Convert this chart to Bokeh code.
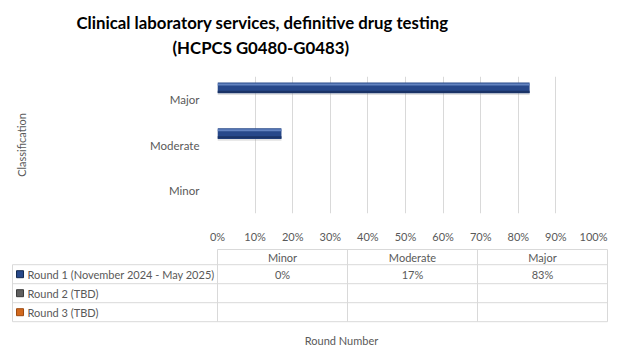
from bokeh.plotting import figure
from bokeh.models import (Range1d, FactorRange, ColumnDataSource, Title,
                          NumeralTickFormatter, FixedTicker)
from bokeh.transform import dodge
from bokeh.core.properties import value
from bokeh.embed import file_html
from bokeh.resources import INLINE

# ---------------- data ----------------
categories = ["Minor", "Moderate", "Major"]
series_names = ["Round 1 (November 2024 - May 2025)", "Round 2 (TBD)", "Round 3 (TBD)"]
round1 = [0.0, 0.17, 0.83]
round2 = [None, None, None]
round3 = [None, None, None]
series_colors = ["#27488A", "#5F5F5F", "#D2691E"]
x_ticks = [0.0, 0.1, 0.2, 0.3, 0.4, 0.5, 0.6, 0.7, 0.8, 0.9, 1.0]
title_lines = ["Clinical laboratory services, definitive drug testing", "(HCPCS G0480-G0483)"]
y_title = "Classification"
x_title = "Round Number"

FONT = "Lato"
GRAY = "#595959"
GRID = "#D9D9D9"
W = 613

nan = float("nan")
def clean(v):
    return [nan if x is None else x for x in v]

# ---------------- chart ----------------
pA = figure(width=W, height=245, y_range=FactorRange(*categories),
            x_range=Range1d(0, 1), output_backend="svg", toolbar_location=None,
            min_border_left=217, min_border_right=20, min_border_top=76,
            min_border_bottom=29, title=None)
pA.outline_line_color = None
pA.ygrid.grid_line_color = None
pA.xgrid.grid_line_color = GRID
pA.xgrid.ticker = FixedTicker(ticks=x_ticks)

xa = pA.xaxis[0]
xa.ticker = FixedTicker(ticks=x_ticks)
xa.formatter = NumeralTickFormatter(format="0%")
xa.axis_line_color = None
xa.major_tick_line_color = None
xa.minor_tick_line_color = None
xa.major_label_standoff = 10
xa.major_label_text_font = FONT
xa.major_label_text_font_size = "11px"
xa.major_label_text_color = GRAY

ya = pA.yaxis[0]
ya.axis_line_color = None
ya.major_tick_line_color = None
ya.minor_tick_line_color = None
ya.major_label_standoff = 12
ya.major_label_text_font = FONT
ya.major_label_text_font_size = "11.5px"
ya.major_label_text_color = GRAY
ya.axis_label = y_title
ya.axis_label_standoff = 119
ya.axis_label_text_font = FONT
ya.axis_label_text_font_style = "normal"
ya.axis_label_text_font_size = "11px"
ya.axis_label_text_color = GRAY

src = ColumnDataSource(dict(cls=categories, r1=clean(round1), r2=clean(round2), r3=clean(round3)))

# shadow
pA.hbar(y=dodge("cls", 0.25 - 0.035, range=pA.y_range), left=0, right="r1", height=0.24,
        source=src, fill_color="#9A9A9A", fill_alpha=0.3, line_color=None)
# round 1 bars
pA.hbar(y=dodge("cls", 0.25, range=pA.y_range), left=0, right="r1", height=0.235,
        source=src, fill_color=series_colors[0], line_color=None)
pA.hbar(y=dodge("cls", 0.25 + 0.075, range=pA.y_range), left=0, right="r1", height=0.045,
        source=src, fill_color="#6383C0", line_color=None)
pA.hbar(y=dodge("cls", 0.25 - 0.085, range=pA.y_range), left=0, right="r1", height=0.05,
        source=src, fill_color="#1A3366", line_color=None)
# rounds 2 and 3 (no data yet)
pA.hbar(y=dodge("cls", 0.0, range=pA.y_range), left=0, right="r2", height=0.235,
        source=src, fill_color=series_colors[1], line_color=None)
pA.hbar(y=dodge("cls", -0.25, range=pA.y_range), left=0, right="r3", height=0.235,
        source=src, fill_color=series_colors[2], line_color=None)

# spacer between the plot area and the title block
pA.add_layout(Title(text=" ", text_font_size="1px", standoff=16, text_color="#FFFFFF"), "above")
pA.add_layout(Title(text=title_lines[1], align="left", offset=-45, standoff=0, text_font=FONT,
                    text_font_size="16.8px", text_font_style="bold", text_color="#000000"), "above")
pA.add_layout(Title(text=title_lines[0], align="left", offset=-141, standoff=4, text_font=FONT,
                    text_font_size="16.8px", text_font_style="bold", text_color="#000000"), "above")

# ---------------- data table ----------------
CW = 130.0   # px per column
RH = 19.0    # px per row
L = -205.0 / CW
pB = figure(width=W, height=108, x_range=Range1d(-217.0 / CW, 396.0 / CW),
            y_range=Range1d(104.0 / RH, -4.0 / RH), output_backend="svg",
            toolbar_location=None, x_axis_location=None, y_axis_location=None,
            min_border=0, title=None)
pB.outline_line_color = None
pB.grid.visible = False

n = len(categories)
hy = [0.0, 0.8] + [0.8 + i + 1 for i in range(len(series_names))]
hx0 = [0.0] + [L] * (len(hy) - 1)
pB.segment(x0=hx0, y0=hy, x1=[float(n)] * len(hy), y1=hy, line_color=GRID, line_width=1)
bottom = hy[-1]
vx = [L] + [float(i) for i in range(n + 1)]
vy0 = [0.8] + [0.0] * (n + 1)
pB.segment(x0=vx, y0=vy0, x1=vx, y1=[bottom] * len(vx), line_color=GRID, line_width=1)

tf = dict(text_font=value(FONT), text_font_size="11px", text_color=GRAY, text_baseline="middle")
pB.text(x=[i + 0.5 for i in range(n)], y=[0.4] * n, text=categories, text_align="center", **tf)
pB.text(x=[i + 0.5 for i in range(n)], y=[1.3] * n,
        text=[f"{round(v * 100)}%" for v in round1], text_align="center", **tf)
rows_y = [1.3 + i for i in range(len(series_names))]
pB.text(x=[-1.4615] * len(series_names), y=rows_y, text=series_names, text_align="left", **tf)
pB.scatter(x=[-1.519] * len(series_names), y=rows_y, marker="square", size=7,
           fill_color=series_colors, line_color=["#13294F", "#3A3A3A", "#9E4A10"], line_width=1)
pB.text(x=[124.0 / CW], y=[91.0 / RH], text=[x_title], text_align="center", **tf)

open("out.html", "w").write(file_html([pA, pB], INLINE))
